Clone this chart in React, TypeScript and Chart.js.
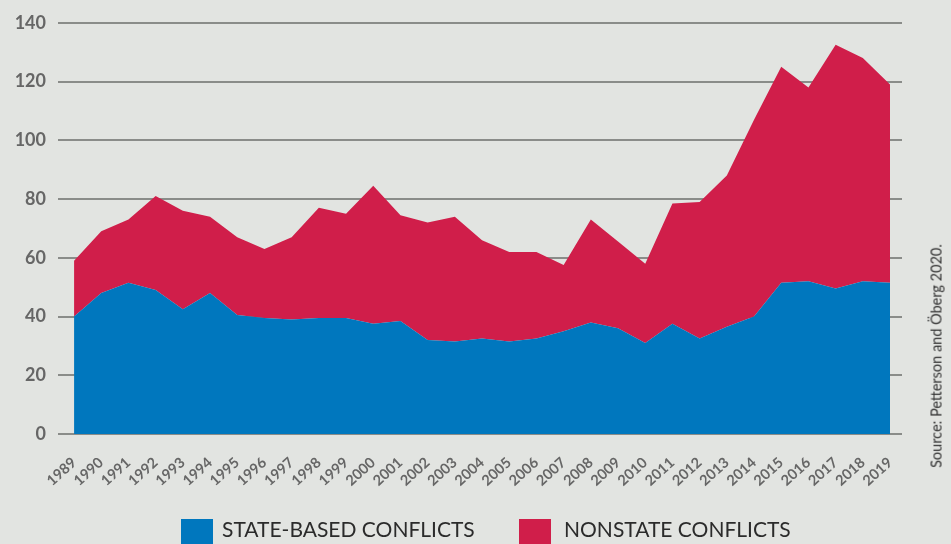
import React, { useEffect, useRef } from "react";
import { Chart, registerables } from "chart.js";

Chart.register(...registerables);

const years = [
  1989, 1990, 1991, 1992, 1993, 1994, 1995, 1996, 1997, 1998, 1999, 2000, 2001,
  2002, 2003, 2004, 2005, 2006, 2007, 2008, 2009, 2010, 2011, 2012, 2013, 2014,
  2015, 2016, 2017, 2018, 2019,
];
const stateBased = [
  40, 48, 51.5, 49, 42.5, 48, 40.5, 39.5, 39, 39.5, 39.5, 37.5, 38.5, 32, 31.5,
  32.5, 31.5, 32.5, 35, 38, 36, 31, 37.5, 32.5, 36.5, 40, 51.5, 52, 49.5, 52, 51.5,
];
const nonstate = [
  19, 21, 21.5, 32, 33.5, 26, 26.5, 23.5, 28, 37.5, 35.5, 47, 36, 40, 42.5, 33.5,
  30.5, 29.5, 22.5, 35, 29.5, 27, 41, 46.5, 51.5, 67, 73.5, 66, 83, 76, 67.5,
];
const yTicks = [0, 20, 40, 60, 80, 100, 120, 140];
const seriesLabels = ["STATE-BASED CONFLICTS", "NONSTATE CONFLICTS"];
const seriesColors = ["#0077be", "#d01e4a"];
const sourceText = "Source: Petterson and Öberg 2020.";

const BG = "#e2e4e1";

export default function App() {
  const canvasRef = useRef<HTMLCanvasElement | null>(null);

  useEffect(() => {
    document.body.style.margin = "0";
    const canvas = canvasRef.current;
    if (!canvas) return;
    const chart = new Chart(canvas, {
      type: "line",
      data: {
        datasets: [
          {
            label: seriesLabels[0],
            data: years.map((y, i) => ({ x: y, y: stateBased[i] })),
            backgroundColor: seriesColors[0],
            borderColor: seriesColors[0],
            borderWidth: 0,
            pointRadius: 0,
            fill: "origin",
            tension: 0,
          },
          {
            label: seriesLabels[1],
            data: years.map((y, i) => ({ x: y, y: nonstate[i] })),
            backgroundColor: seriesColors[1],
            borderColor: seriesColors[1],
            borderWidth: 0,
            pointRadius: 0,
            fill: "-1",
            tension: 0,
          },
        ],
      },
      options: {
        animation: false,
        responsive: false,
        maintainAspectRatio: false,
        layout: { padding: { left: 0, top: 21, right: 49, bottom: 0 } },
        plugins: {
          legend: { display: false },
          tooltip: { enabled: false },
          filler: { propagate: false },
        },
        scales: {
          x: {
            type: "linear",
            min: 1988.41,
            max: 2019.44,
            grid: { display: false },
            border: { display: false },
            afterBuildTicks: (scale: any) => {
              scale.ticks = years.map((v) => ({ value: v }));
            },
            afterFit: (scale: any) => {
              scale.height = 110;
            },
            ticks: {
              autoSkip: false,
              minRotation: 42,
              maxRotation: 42,
              padding: 12,
              color: "#666666",
              font: { family: "Lato", size: 14.5, weight: "bold" },
              callback: (v: any) => String(v),
            },
          },
          y: {
            stacked: true,
            min: 0,
            max: 140,
            afterBuildTicks: (scale: any) => {
              scale.ticks = yTicks.map((v) => ({ value: v }));
            },
            afterFit: (scale: any) => {
              scale.width = 58;
            },
            grid: {
              color: "#8a8c89",
              lineWidth: 2,
              drawTicks: false,
            },
            border: { display: false },
            ticks: {
              padding: 12,
              color: "#666666",
              font: { family: "Lato", size: 18, weight: "bold" },
            },
          },
        },
      },
    });
    return () => chart.destroy();
  }, []);

  return (
    <div
      style={{
        position: "relative",
        width: 951,
        height: 544,
        overflow: "hidden",
        background: BG,
      }}
    >
      <canvas ref={canvasRef} width={951} height={544} style={{ position: "absolute", left: 0, top: 0 }} />
      {seriesLabels.map((label, i) => (
        <div
          key={label}
          style={{
            position: "absolute",
            left: i === 0 ? 181 : 519,
            top: 519,
            display: "flex",
            alignItems: "flex-start",
            whiteSpace: "nowrap",
          }}
        >
          <div style={{ width: 32, height: 32, background: seriesColors[i] }} />
          <div
            style={{
              marginLeft: i === 0 ? 9 : 13,
              marginTop: -4,
              fontFamily: "Lato",
              fontSize: 21,
              color: "#2b2b2b",
              lineHeight: "28px",
            }}
          >
            {label}
          </div>
        </div>
      ))}
      <div
        style={{
          position: "absolute",
          left: 936,
          top: 356,
          transform: "translate(-50%, -50%) rotate(-90deg)",
          whiteSpace: "nowrap",
          fontFamily: "Lato",
          fontSize: 14.5,
          color: "#333333",
        }}
      >
        {sourceText}
      </div>
    </div>
  );
}
